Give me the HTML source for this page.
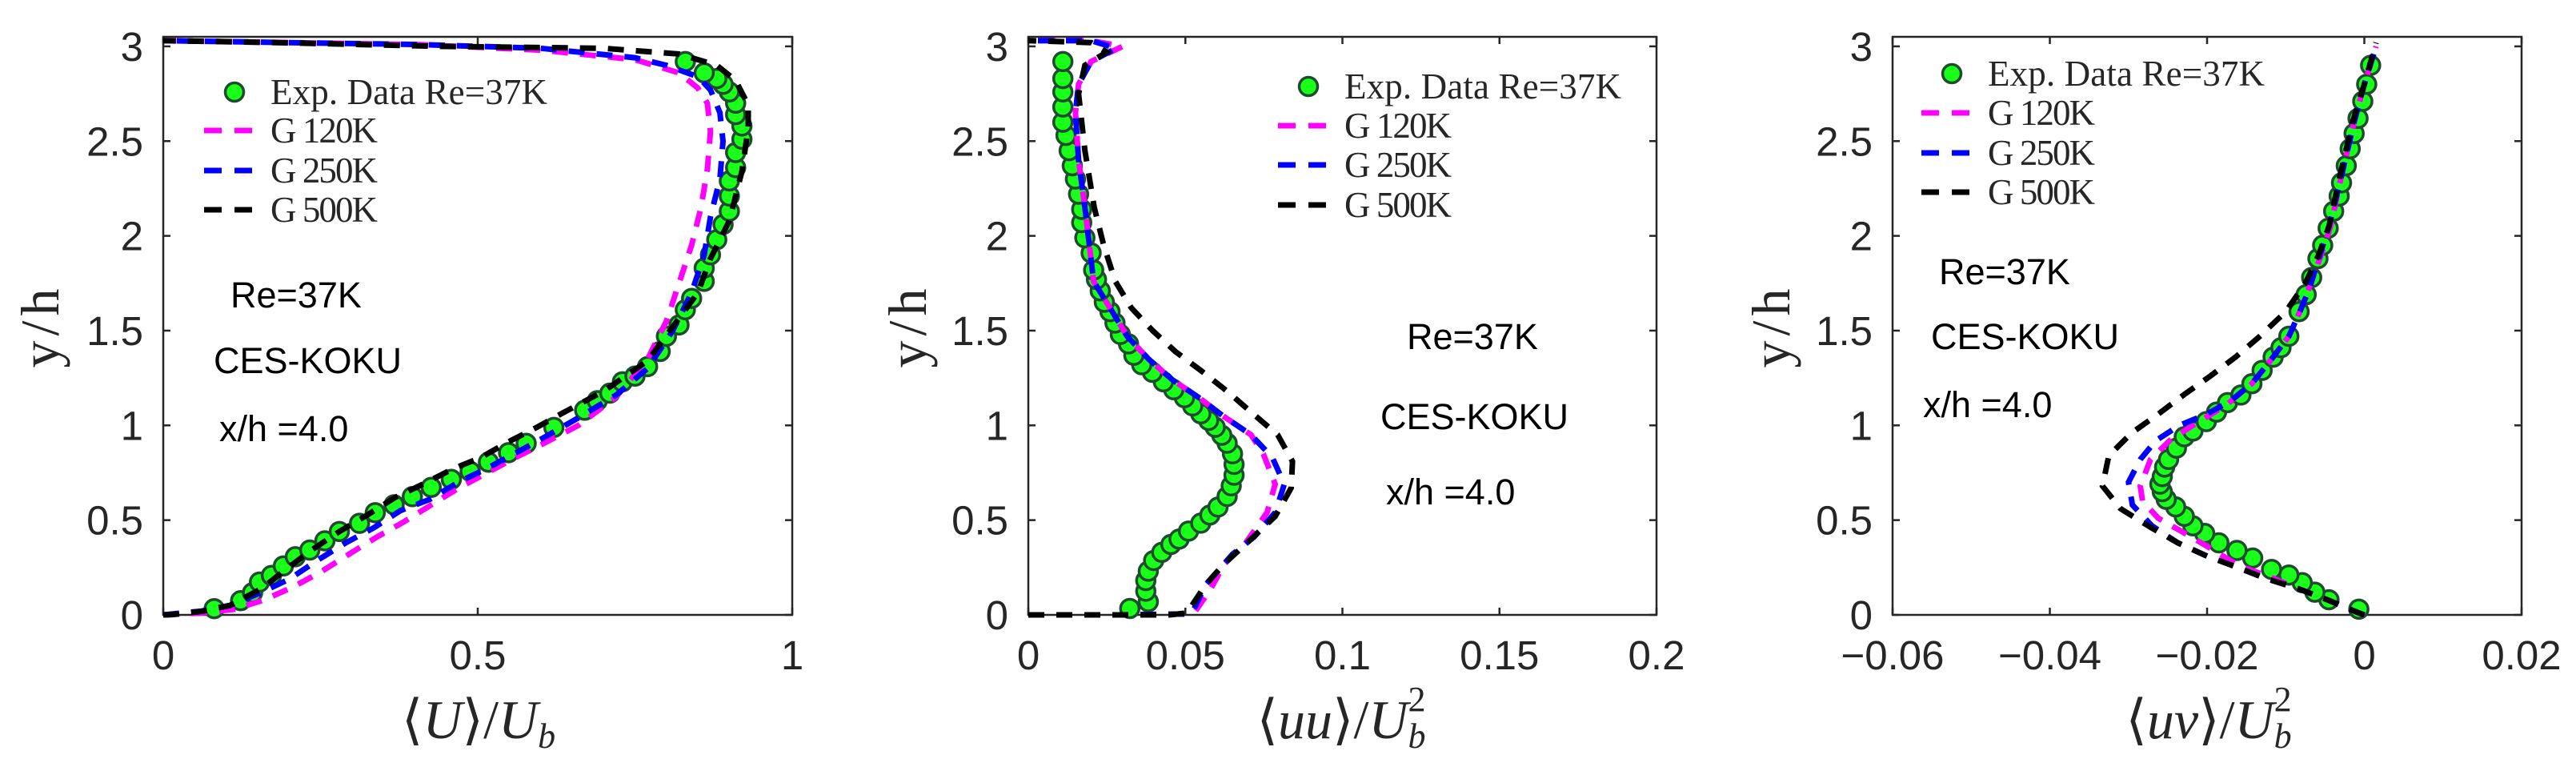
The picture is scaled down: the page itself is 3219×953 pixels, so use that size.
<!DOCTYPE html>
<html><head><meta charset="utf-8">
<style>
html,body{margin:0;padding:0;background:#fff;}
svg{display:block;}
.tick{font-family:"Liberation Sans",sans-serif;font-size:51px;fill:#262626;}
.ann{font-family:"Liberation Sans",sans-serif;font-size:45px;fill:#000;}
.leg{font-family:"Liberation Serif",serif;font-size:45px;fill:#262626;}
.lab{font-family:"Liberation Serif",serif;font-size:68px;fill:#262626;}
</style></head>
<body>
<svg id="fig" width="3219" height="953" viewBox="0 0 3219 953" xmlns="http://www.w3.org/2000/svg"></svg>
<script>
// ---------- data ----------
const yTicks = [0,0.5,1,1.5,2,2.5,3];
const yTickLabels = ["0","0.5","1","1.5","2","2.5","3"];
const p1XTicks = [0,0.5,1];
const p1XTickLabels = ["0","0.5","1"];
const p2XTicks = [0,0.05,0.1,0.15,0.2];
const p2XTickLabels = ["0","0.05","0.1","0.15","0.2"];
const p3XTicks = [-0.06,-0.04,-0.02,0,0.02];
const p3XTickLabels = ["\u22120.06","\u22120.04","\u22120.02","0","0.02"];
const legendLabels = ["Exp. Data Re=37K","G 120K","G 250K","G 500K"];

// Panel 1: <U>/Ub
const p1ExpX = [.081,.123,.142,.153,.172,.191,.210,.233,.257,.280,.312,.337,.367,.396,.426,.458,.488,.517,.549,.577,.621,.67,.69,.71,.73,.75,.77,.79,.80,.82,.83,.84,.86,.86,.87,.88,.89,.90,.90,.90,.91,.91,.92,.92,.91,.91,.90,.89,.88,.86,.83];
const p1ExpY = [.033,.075,.117,.173,.208,.258,.307,.342,.391,.440,.483,.539,.581,.624,.673,.715,.757,.806,.856,.905,.989,1.08,1.13,1.17,1.23,1.26,1.31,1.39,1.47,1.53,1.61,1.67,1.76,1.83,1.90,1.98,2.06,2.13,2.21,2.29,2.36,2.44,2.51,2.58,2.64,2.70,2.76,2.80,2.83,2.86,2.92];
const p1G120X = [0,.06,.114,.161,.208,.252,.295,.339,.382,.426,.47,.515,.56,.602,.66,.72,.77,.80,.82,.84,.855,.865,.87,.865,.85,.82,.75,.6,.4,.2,0];
const p1G120Y = [0,.01,.03,.08,.15,.23,.32,.41,.49,.58,.67,.75,.83,.9,1.0,1.15,1.35,1.55,1.75,1.95,2.15,2.35,2.55,2.7,2.78,2.86,2.93,2.98,3.01,3.02,3.03];
const p1G250X = [0,.06,.106,.157,.201,.246,.29,.335,.377,.424,.469,.513,.558,.602,.66,.72,.77,.81,.84,.86,.87,.885,.89,.885,.87,.85,.8,.75,.6,.4,.2,0];
const p1G250Y = [0,.02,.05,.12,.19,.29,.38,.46,.55,.61,.70,.77,.85,.93,1.04,1.16,1.30,1.50,1.70,1.90,2.10,2.3,2.5,2.65,2.77,2.84,2.90,2.94,2.99,3.01,3.02,3.03];
const p1G500X = [0,.013,.064,.106,.157,.191,.235,.28,.326,.369,.413,.46,.505,.547,.594,.632,.70,.77,.81,.85,.87,.90,.92,.93,.93,.91,.88,.82,.70,.44,.18,0];
const p1G500Y = [0,.001,.02,.05,.14,.23,.34,.44,.53,.62,.69,.77,.83,.91,.99,1.06,1.18,1.34,1.52,1.70,1.88,2.08,2.34,2.57,2.69,2.82,2.90,2.96,2.99,3.0,3.02,3.03];

// Panel 2: <uu>/Ub^2
const p2ExpX = [.0323,.0382,.0374,.0374,.0382,.0399,.0425,.0454,.048,.051,.0549,.0578,.0604,.0633,.0646,.0655,.0655,.065,.0633,.0616,.0595,.0574,.0549,.0523,.0497,.0463,.043,.0395,.0361,.0336,.0319,.0293,.0276,.026,.0242,.0229,.0217,.0208,.020,.018,.017,.017,.016,.015,.014,.013,.012,.011,.011,.011,.011,.011];
const p2ExpY = [.034,.069,.125,.181,.231,.287,.33,.372,.40,.442,.484,.527,.569,.625,.681,.737,.794,.85,.906,.948,.99,1.026,1.061,1.103,1.146,1.188,1.23,1.28,1.32,1.37,1.43,1.48,1.54,1.60,1.65,1.71,1.77,1.82,1.91,1.99,2.07,2.14,2.22,2.30,2.37,2.45,2.53,2.60,2.68,2.76,2.83,2.92];
const p2G120X = [0,.03,.05,.0532,.0578,.0625,.0692,.076,.0786,.0748,.0709,.062,.054,.0459,.0383,.0315,.026,.0208,.018,.016,.015,.016,.02,.03,.02,0];
const p2G120Y = [0,0,.005,.02,.13,.27,.38,.54,.69,.85,.95,1.05,1.15,1.24,1.35,1.47,1.62,1.76,2.15,2.4,2.65,2.8,2.92,3.0,3.03,3.03];
const p2G250X = [0,.03,.05,.0524,.0565,.065,.0718,.0786,.0815,.0777,.0709,.062,.054,.0459,.0383,.0315,.026,.0208,.018,.016,.015,.016,.02,.028,.02,0];
const p2G250Y = [0,0,.005,.02,.16,.32,.41,.54,.69,.83,.95,1.05,1.15,1.24,1.35,1.47,1.62,1.76,2.15,2.4,2.65,2.8,2.92,2.99,3.03,3.03];
const p2G500X = [0,.045,.0505,.0565,.0624,.0709,.0786,.0837,.0841,.0794,.0709,.0633,.0549,.0468,.0396,.0328,.0277,.024,.021,.018,.016,.018,.025,.02,0];
const p2G500Y = [0,0,.01,.16,.27,.40,.52,.67,.81,.95,1.07,1.18,1.29,1.39,1.50,1.62,1.76,1.95,2.15,2.45,2.75,2.9,2.97,3.02,3.03];

// Panel 3: <uv>/Ub^2
const p3ExpX = [-.0007,-.0045,-.0063,-.0079,-.0096,-.0118,-.0142,-.0162,-.0185,-.0203,-.0218,-.0229,-.024,-.0252,-.0257,-.026,-.0257,-.0254,-.0249,-.0239,-.0229,-.0218,-.0201,-.0188,-.0174,-.0157,-.0143,-.013,-.0116,-.0106,-.0096,-.0083,-.0074,-.0067,-.0059,-.0053,-.0046,-.0039,-.0032,-.0029,-.0023,-.0018,-.0013,-.0008,-.0002,.0003,.0008];
const p3ExpY = [.03,.08,.12,.17,.21,.24,.30,.34,.38,.43,.47,.52,.57,.61,.65,.69,.73,.78,.82,.88,.94,.97,1.02,1.07,1.12,1.16,1.22,1.29,1.36,1.41,1.47,1.60,1.69,1.78,1.88,1.95,2.04,2.13,2.21,2.28,2.37,2.46,2.54,2.62,2.71,2.80,2.90];
const p3G120X = [0,-.0007,-.0047,-.0085,-.012,-.016,-.0195,-.0228,-.0262,-.0282,-.0285,-.0272,-.0245,-.021,-.0175,-.0143,-.0118,-.0096,-.0082,-.0068,-.0055,-.0043,-.003,-.0013,0,.0015];
const p3G120Y = [0,.01,.08,.14,.2,.26,.35,.43,.51,.60,.68,.82,.93,1.02,1.11,1.22,1.35,1.47,1.6,1.75,1.9,2.05,2.3,2.6,2.8,3.0];
const p3G250X = [0,-.0007,-.0047,-.0085,-.0124,-.0161,-.02,-.0237,-.027,-.0295,-.030,-.0285,-.0265,-.0235,-.02,-.017,-.0143,-.0118,-.0096,-.0082,-.007,-.0058,-.0045,-.003,-.0013,0,.0015];
const p3G250Y = [0,.01,.08,.14,.19,.25,.31,.38,.47,.58,.70,.82,.92,1.0,1.06,1.13,1.22,1.35,1.47,1.6,1.72,1.88,2.05,2.3,2.6,2.8,3.0];
const p3G500X = [0,-.0007,-.0047,-.0085,-.0124,-.0161,-.02,-.0237,-.0271,-.031,-.0333,-.0325,-.0296,-.0262,-.023,-.0196,-.0164,-.0133,-.01,-.0075,-.0058,-.0045,-.0032,-.0015,0,.0015];
const p3G500Y = [0,.01,.08,.14,.19,.25,.31,.38,.46,.56,.68,.84,.96,1.06,1.16,1.26,1.36,1.47,1.6,1.75,1.9,2.05,2.3,2.6,2.8,3.02];

// ---------- drawing ----------
const NS = "http://www.w3.org/2000/svg";
const svg = document.getElementById("fig");
function mk(tag, attrs, parent){
  const e = document.createElementNS(NS, tag);
  for (const k in attrs) e.setAttribute(k, attrs[k]);
  (parent||svg).appendChild(e);
  return e;
}
const TOP = 46, BOT = 768, Y0 = 768, YPER = 236.7;
function yScale(v){ return Y0 - v*YPER; }
const COLORS = ["#ff00ff","#0000ff","#000000"];

function panel(cfg){
  const g = mk("g", {});
  
  
  const xs = v => cfg.L + (v - cfg.xmin)/(cfg.xmax - cfg.xmin)*(cfg.R - cfg.L);
  const box = mk("rect", {x:cfg.L, y:TOP, width:cfg.R-cfg.L, height:BOT-TOP, fill:"none", stroke:"#262626","stroke-width":2.5}, g);
  
  
  yTicks.forEach((t,i)=>{
    const y = yScale(t);
    mk("line",{x1:cfg.L,x2:cfg.L+9,y1:y,y2:y,stroke:"#262626","stroke-width":2.5},g);
    mk("line",{x1:cfg.R,x2:cfg.R-9,y1:y,y2:y,stroke:"#262626","stroke-width":2.5},g);
    const tx = mk("text",{x:cfg.L-25,y:y+18,"text-anchor":"end",class:"tick"},g);
    tx.textContent = yTickLabels[i];
    
    
  });
  cfg.xt.forEach((t,i)=>{
    const x = xs(t);
    mk("line",{x1:x,x2:x,y1:BOT,y2:BOT-9,stroke:"#262626","stroke-width":2.5},g);
    mk("line",{x1:x,x2:x,y1:TOP,y2:TOP+9,stroke:"#262626","stroke-width":2.5},g);
    const tx = mk("text",{x:x,y:836,"text-anchor":"middle",class:"tick"},g);
    tx.textContent = cfg.xtl[i];
    
    
  });
  cfg.ex.forEach((v,i)=>{
    const c = mk("circle",{cx:xs(v),cy:yScale(cfg.ey[i]),r:11.5,fill:"#1aff1a",stroke:"#1e4d2e","stroke-width":3.5},g);
    
    
  });
  const names = ["g120k-line","g250k-line","g500k-line"];
  cfg.lines.forEach((ln,k)=>{
    const d = ln[0].map((v,i)=>(i?"L":"M")+xs(v).toFixed(1)+","+yScale(ln[1][i]).toFixed(1)).join(" ");
    const p = mk("path",{d:d,fill:"none",stroke:COLORS[k],"stroke-width":7,"stroke-dasharray":"20 15"},g);
    
    
  });
  const lg = mk("g",{},g);
  
  
  const lm = mk("circle",{cx:cfg.legX+38,cy:cfg.legY[0],r:11.5,fill:"#1aff1a",stroke:"#1e4d2e","stroke-width":3.5},lg);
  
  
  for(let k=0;k<3;k++){
    const l = mk("line",{x1:cfg.legX,x2:cfg.legX+60,y1:cfg.legY[k+1],y2:cfg.legY[k+1],stroke:COLORS[k],"stroke-width":7,"stroke-dasharray":"22 16"},lg);
    
    
  }
  legendLabels.forEach((s,i)=>{
    const t = mk("text",{x:cfg.legX+83,y:cfg.legY[i]+15,class:"leg"},lg);
    if(i===0) t.setAttribute("textLength","346"); else t.setAttribute("textLength","134");
    t.textContent = s;
    
    
  });
  const ann = ["Re=37K","CES-KOKU","x/h =4.0"];
  ann.forEach((s,i)=>{
    const t = mk("text",{x:cfg.ann[i][0],y:cfg.ann[i][1]+16,class:"ann"},g);
    t.textContent = s;
    
    
  });
  const yl = mk("text",{x:0,y:0,class:"lab","text-anchor":"middle","letter-spacing":"6",transform:`translate(${cfg.ylx+22},${407}) rotate(-90)`},g);
  yl.textContent = "y/h";
  
  
  const xl = mk("text",{x:cfg.xlx,y:922,class:"lab","text-anchor":"middle"},g);
  xl.innerHTML = cfg.xlab;
  
  
}

panel({name:"panel-mean-velocity",L:204,R:990,xmin:0,xmax:1,xt:p1XTicks,xtl:p1XTickLabels,
  ex:p1ExpX,ey:p1ExpY,lines:[[p1G120X,p1G120Y],[p1G250X,p1G250Y],[p1G500X,p1G500Y]],
  legX:255,legY:[115,163,213,262],ann:[[288,368],[267,450],[274,535]],ylx:51,xlx:598,
  xlab:'⟨<tspan font-style="italic">U</tspan>⟩/<tspan font-style="italic">U</tspan><tspan font-style="italic" font-size="44" dy="12">b</tspan>'});
panel({name:"panel-uu-stress",L:1285,R:2070,xmin:0,xmax:0.2,xt:p2XTicks,xtl:p2XTickLabels,
  ex:p2ExpX,ey:p2ExpY,lines:[[p2G120X,p2G120Y],[p2G250X,p2G250Y],[p2G500X,p2G500Y]],
  legX:1597,legY:[108,157,206,256],ann:[[1758,420],[1725,520],[1732,614]],ylx:1135,xlx:1676,
  xlab:'⟨<tspan font-style="italic">uu</tspan>⟩/<tspan font-style="italic">U</tspan><tspan font-style="italic" font-size="44" dy="12">b</tspan><tspan font-size="44" dx="-22" dy="-46">2</tspan>'});
panel({name:"panel-uv-stress",L:2365,R:3151,xmin:-0.06,xmax:0.02,xt:p3XTicks,xtl:p3XTickLabels,
  ex:p3ExpX,ey:p3ExpY,lines:[[p3G120X,p3G120Y],[p3G250X,p3G250Y],[p3G500X,p3G500Y]],
  legX:2401,legY:[92,141,191,240],ann:[[2423,339],[2413,420],[2403,505]],ylx:2214,xlx:2760,
  xlab:'⟨<tspan font-style="italic">uv</tspan>⟩/<tspan font-style="italic">U</tspan><tspan font-style="italic" font-size="44" dy="12">b</tspan><tspan font-size="44" dx="-22" dy="-46">2</tspan>'});
</script>
</body></html>
